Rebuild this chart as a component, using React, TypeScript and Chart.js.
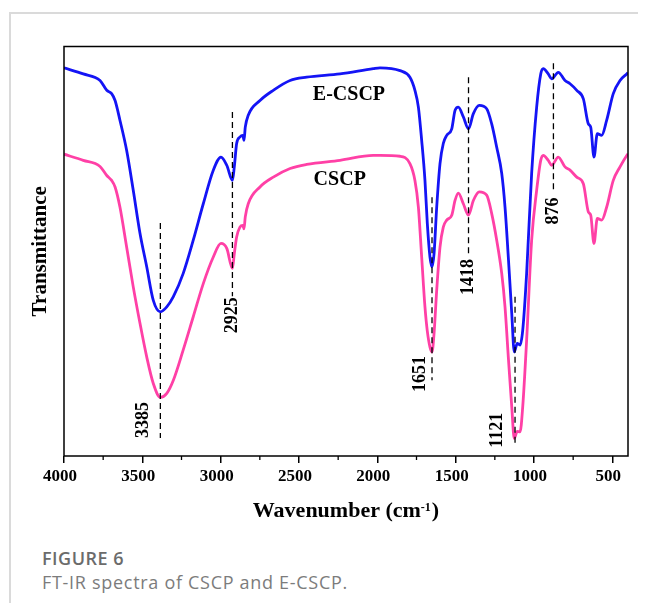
import React, { useEffect, useRef } from "react";
import { Chart, registerables } from "chart.js";

Chart.register(...registerables);

// ---- Data ----
const wavenumbers = [
  4000, 3877, 3770, 3727, 3696, 3674, 3643, 3600, 3558, 3515, 3472, 3430, 3385, 3344, 3302, 3239,
  3175, 3111, 3047, 2998, 2961, 2925, 2913, 2898, 2877, 2859, 2851, 2843, 2824, 2749, 2664, 2557,
  2451, 2238, 2026, 1983, 1855, 1792, 1760, 1738, 1717, 1696, 1681, 1664, 1651, 1638, 1621, 1600,
  1579, 1557, 1525, 1504, 1483, 1451, 1418, 1387, 1349, 1302, 1270, 1238, 1206, 1185, 1164, 1142,
  1126, 1107, 1089, 1072, 1047, 1015, 983, 957, 941, 909, 887, 845, 802, 770, 727, 685,
  653, 638, 617, 596, 568, 536, 494, 451, 408, 400,
];

const ecscpValues = [
  94.8, 93.3, 91.7, 89.3, 88.5, 86.8, 82.0, 74.6, 64.9, 54.4, 46.2, 38.0, 35.2, 36.4, 38.9, 44.6,
  52.7, 61.6, 69.8, 73.0, 71.0, 67.3, 70.6, 76.3, 77.9, 78.3, 77.1, 80.3, 83.2, 86.8, 89.3, 91.7,
  92.5, 93.3, 94.6, 94.8, 94.1, 92.5, 89.3, 85.2, 77.1, 67.3, 56.8, 48.6, 46.2, 49.4, 60.8, 71.4,
  76.3, 78.3, 79.9, 84.4, 85.2, 82.8, 79.9, 83.6, 85.6, 84.8, 81.1, 75.4, 69.0, 60.8, 48.6, 34.8,
  25.4, 27.5, 27.1, 30.7, 44.6, 69.0, 85.2, 93.3, 94.6, 93.3, 92.1, 93.7, 91.7, 90.9, 89.3, 87.2,
  81.1, 80.3, 73.0, 78.7, 78.3, 82.0, 88.5, 91.7, 93.3, 93.6,
];

const cscpValues = [
  73.7, 72.2, 70.7, 68.5, 67.3, 65.7, 60.8, 51.0, 41.3, 32.4, 24.2, 17.7, 14.3, 15.3, 18.5, 25.9,
  34.0, 42.1, 48.6, 51.9, 50.7, 45.8, 49.4, 53.5, 55.9, 56.3, 55.5, 58.4, 61.6, 65.7, 68.1, 70.2,
  71.2, 72.2, 73.4, 73.4, 73.2, 71.4, 67.3, 60.8, 48.6, 36.4, 30.5, 26.6, 25.4, 29.9, 40.5, 51.0,
  55.9, 57.6, 58.8, 62.4, 64.2, 61.6, 58.8, 62.4, 64.5, 63.7, 59.2, 52.7, 44.6, 36.4, 24.2, 12.0,
  4.3, 6.0, 5.9, 12.0, 28.3, 52.7, 64.9, 72.2, 73.4, 72.2, 71.0, 73.0, 70.6, 69.8, 68.1, 66.5,
  59.6, 58.8, 51.9, 58.0, 57.6, 60.8, 67.3, 70.6, 73.4, 73.8,
];

const majorTicks = [500, 1000, 1500, 2000, 2500, 3000, 3500, 4000];
const minorTicks = [750, 1250, 1750, 2250, 2750, 3250, 3750];

const peakWavenumbers = [3385, 2925, 1651, 1418, 1121, 876];
const peakLineTop = [56.9, 84.0, 63.2, 92.5, 38.9, 95.9];
const peakLineBottom = [4.4, 39.0, 18.5, 49.5, 2.3, 64.4];
const peakLabelLevel = [8.8, 34.4, 20.0, 43.7, 6.3, 59.8];

const seriesLabels = ["E-CSCP", "CSCP"];
const seriesLabelWavenumber = [2181, 2240];
const seriesLabelLevel = [88.3, 67.5];

// ---- Styles ----
const SERIF = '"Liberation Serif", "Times New Roman", serif';
const peakLabelDx = [-17, 0, -12, 0, -18, 0];

const annotations = {
  id: "annotations",
  afterDatasetsDraw(chart: any) {
    const { ctx, chartArea } = chart;
    const x = chart.scales.x;
    const y = chart.scales.y;
    ctx.save();
    // frame
    ctx.strokeStyle = "#000";
    ctx.lineWidth = 1.5;
    ctx.setLineDash([]);
    ctx.strokeRect(
      chartArea.left,
      chartArea.top,
      chartArea.right - chartArea.left,
      chartArea.bottom - chartArea.top
    );
    // minor ticks
    ctx.lineWidth = 1.3;
    minorTicks.forEach((v) => {
      const px = x.getPixelForValue(v);
      ctx.beginPath();
      ctx.moveTo(px, chartArea.bottom);
      ctx.lineTo(px, chartArea.bottom + 4);
      ctx.stroke();
    });
    // series labels
    ctx.fillStyle = "#000";
    ctx.font = `bold 20px ${SERIF}`;
    ctx.textAlign = "center";
    ctx.textBaseline = "middle";
    seriesLabels.forEach((t, i) => {
      ctx.fillText(
        t,
        x.getPixelForValue(seriesLabelWavenumber[i]),
        y.getPixelForValue(seriesLabelLevel[i])
      );
    });
    // peak labels (rotated)
    ctx.font = `bold 18px ${SERIF}`;
    peakWavenumbers.forEach((w, i) => {
      ctx.save();
      ctx.translate(x.getPixelForValue(w) + peakLabelDx[i], y.getPixelForValue(peakLabelLevel[i]));
      ctx.rotate(-Math.PI / 2);
      ctx.fillText(String(w), 0, 0);
      ctx.restore();
    });
    // x-axis title with superscript
    const cx = (chartArea.left + chartArea.right) / 2;
    const base = chartArea.bottom + 61;
    const main = "Wavenumber (cm";
    const sup = "-1";
    const close = ")";
    ctx.textAlign = "left";
    ctx.textBaseline = "alphabetic";
    ctx.font = `bold 22px ${SERIF}`;
    const w1 = ctx.measureText(main).width;
    const w3 = ctx.measureText(close).width;
    ctx.font = `bold 12px ${SERIF}`;
    const w2 = ctx.measureText(sup).width;
    let sx = cx - (w1 + w2 + w3 + 1) / 2;
    ctx.font = `bold 22px ${SERIF}`;
    ctx.fillText(main, sx, base);
    sx += w1;
    ctx.font = `bold 12px ${SERIF}`;
    ctx.fillText(sup, sx, base - 6.5);
    sx += w2 + 1;
    ctx.font = `bold 22px ${SERIF}`;
    ctx.fillText(close, sx, base);
    ctx.restore();
  },
};

export default function App() {
  const ref = useRef<HTMLCanvasElement>(null);

  useEffect(() => {
    if (!ref.current) return;
    const peakSets = peakWavenumbers.map((w, i) => ({
      label: "peak" + w,
      data: [
        { x: w, y: peakLineTop[i] },
        { x: w, y: peakLineBottom[i] },
      ],
      borderColor: "#000",
      borderWidth: 1.3,
      borderDash: [6, 4],
      pointRadius: 0,
      order: 0,
    }));
    const chart = new Chart(ref.current, {
      type: "line",
      data: {
        datasets: [
          ...peakSets,
          {
            label: "E-CSCP",
            data: wavenumbers.map((w, i) => ({ x: w, y: ecscpValues[i] })),
            borderColor: "#1414f5",
            borderWidth: 2.8,
            pointRadius: 0,
            cubicInterpolationMode: "monotone",
            order: 1,
          },
          {
            label: "CSCP",
            data: wavenumbers.map((w, i) => ({ x: w, y: cscpValues[i] })),
            borderColor: "#ff40a6",
            borderWidth: 2.8,
            pointRadius: 0,
            cubicInterpolationMode: "monotone",
            order: 2,
          },
        ] as any,
      },
      options: {
        responsive: false,
        animation: false,
        layout: { padding: { left: 16, right: 18, top: 38.5, bottom: 0 } },
        plugins: { legend: { display: false }, tooltip: { enabled: false } },
        scales: {
          x: {
            type: "linear",
            reverse: true,
            min: 400,
            max: 4000,
            afterBuildTicks: (s: any) => {
              s.ticks = majorTicks.map((v) => ({ value: v }));
            },
            afterFit: (s: any) => {
              s.height = 82;
            },
            grid: {
              display: true,
              drawOnChartArea: false,
              drawTicks: true,
              tickLength: 7,
              color: "#000",
              lineWidth: 1.5,
            },
            border: { display: false },
            ticks: {
              color: "#000",
              font: { family: SERIF, size: 17, weight: "bold" },
              padding: 3,
              labelOffset: -4,
              maxRotation: 0,
              autoSkip: false,
              callback: (v: any) => String(v),
            },
          },
          y: {
            type: "linear",
            min: 0,
            max: 100,
            afterFit: (s: any) => {
              s.width = 40;
            },
            ticks: { display: false },
            grid: { display: false },
            border: { display: false },
            title: {
              display: true,
              text: "Transmittance",
              color: "#000",
              font: { family: SERIF, size: 21, weight: "bold" },
              padding: { top: 4, bottom: 4 },
            },
          },
        },
      } as any,
      plugins: [annotations],
    });
    return () => chart.destroy();
  }, []);

  return (
    <div style={{ position: "relative", width: 638, height: 595, overflow: "hidden" }}>
      <div
        style={{
          position: "absolute",
          left: 1,
          top: 4,
          width: 637,
          height: 591,
          borderTop: "2px solid #dadada",
          borderLeft: "2px solid #dadada",
          boxSizing: "border-box",
        }}
      />
      <canvas
        ref={ref}
        width={638}
        height={530}
        style={{ position: "absolute", left: 0, top: 0, display: "block" }}
      />
      <div
        style={{
          position: "absolute",
          left: 34,
          top: 541,
          font: '600 18px/18px "Open Sans", sans-serif',
          letterSpacing: "0.5px",
          color: "#6b6b6b",
          whiteSpace: "nowrap",
        }}
      >
        FIGURE 6
      </div>
      <div
        style={{
          position: "absolute",
          left: 34,
          top: 565,
          font: '400 18px/18px "Open Sans", sans-serif',
          letterSpacing: "0.7px",
          color: "#7c7c7c",
          whiteSpace: "nowrap",
        }}
      >
        FT-IR spectra of CSCP and E-CSCP.
      </div>
    </div>
  );
}
